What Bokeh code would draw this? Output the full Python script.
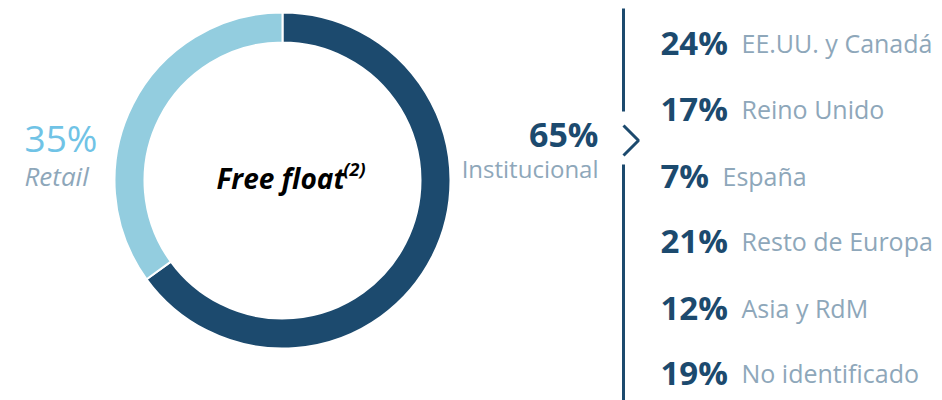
import math
from bokeh.plotting import figure
from bokeh.models import Range1d, ColumnDataSource
from bokeh.core.properties import value
from bokeh.embed import file_html
from bokeh.resources import INLINE

# ---- data ----
split_labels = ["Institucional", "Retail"]
split_values = [65, 35]
region_labels = ["EE.UU. y Canadá", "Reino Unido", "España", "Resto de Europa",
                 "Asia y RdM", "No identificado"]
region_values = [24, 17, 7, 21, 12, 19]
center_title = "Free float"
center_note = "(2)"

DARK = "#1C4A6E"
LIGHT = "#93CDDF"
LIGHT_TXT = "#70C3E6"
GREY = "#8EA7BA"

W, H = 942, 400
p = figure(width=W, height=H, output_backend="svg", toolbar_location=None,
           x_range=Range1d(0, W), y_range=Range1d(400 - H, 400),
           min_border=0, outline_line_color=None)
p.axis.visible = False
p.grid.visible = False
p.background_fill_color = "white"
p.border_fill_color = "white"

def Y(img_y):
    return 400 - img_y

TOFF = 10  # text baseline correction
def TY(img_y):
    return 400 - (img_y - TOFF)

# donut
cx, cy = 282, Y(180)
total = sum(split_values)
starts, ends = [], []
acc = 0.0
for v in split_values:
    a0 = math.pi / 2 - 2 * math.pi * acc / total
    acc += v
    a1 = math.pi / 2 - 2 * math.pi * acc / total
    starts.append(a1)
    ends.append(a0)
src = ColumnDataSource(dict(x=[cx] * 2, y=[cy] * 2, start=starts, end=ends,
                            color=[DARK, LIGHT]))
p.annular_wedge(x="x", y="y", inner_radius=138, outer_radius=168,
                inner_radius_units="screen", outer_radius_units="screen",
                start_angle="start", end_angle="end", fill_color="color",
                line_color="white", line_width=2, source=src)

# center label
p.text(x=[216], y=[TY(187)], text=[center_title], text_font=value("Open Sans"),
       text_font_style="bold italic", text_font_size="28px", text_color="black",
       text_baseline="alphabetic", text_align="left")
p.text(x=[343], y=[TY(178)], text=[center_note], text_font=value("Open Sans"),
       text_font_style="bold italic", text_font_size="18px", text_color="black",
       text_baseline="alphabetic", text_align="left")

# retail label
p.text(x=[24], y=[TY(147)], text=[f"{split_values[1]}%"], text_font=value("Open Sans"),
       text_font_size="37px", text_color=LIGHT_TXT, text_baseline="alphabetic")
p.text(x=[24], y=[TY(185)], text=[split_labels[1]], text_font=value("Open Sans"),
       text_font_style="italic", text_font_size="26px", text_color=GREY,
       text_baseline="alphabetic")

# institutional label
p.text(x=[598], y=[TY(143)], text=[f"{split_values[0]}%"], text_font=value("Open Sans"),
       text_font_style="bold", text_font_size="34px", text_color=DARK,
       text_baseline="alphabetic", text_align="right")
p.text(x=[598], y=[TY(178)], text=[split_labels[0]], text_font=value("Open Sans"),
       text_font_size="24px", text_color=GREY, text_baseline="alphabetic",
       text_align="right")

# bracket line with chevron
p.line(x=[623, 623], y=[Y(8), Y(111)], line_color=DARK, line_width=3)
p.line(x=[623, 638, 623], y=[Y(125), Y(140), Y(155)], line_color=DARK, line_width=3)
p.line(x=[623, 623], y=[Y(164), Y(400)], line_color=DARK, line_width=3)

# region list
row_y = [52, 118, 185, 250, 317, 382]
pct_text = [f"{v}%" for v in region_values]
lab_x = [741 if len(t) == 3 else 722 for t in pct_text]
pct_src = ColumnDataSource(dict(x=[660] * 6, y=[TY(v) for v in row_y], t=pct_text))
p.text(x="x", y="y", text="t", source=pct_src, text_font=value("Open Sans"),
       text_font_style="bold", text_font_size="33px", text_color=DARK,
       text_baseline="alphabetic")
lab_src = ColumnDataSource(dict(x=lab_x, y=[TY(v) for v in row_y], t=region_labels))
p.text(x="x", y="y", text="t", source=lab_src, text_font=value("Open Sans"),
       text_font_size="25px", text_color=GREY, text_baseline="alphabetic")

open("out.html", "w").write(file_html(p, INLINE))
